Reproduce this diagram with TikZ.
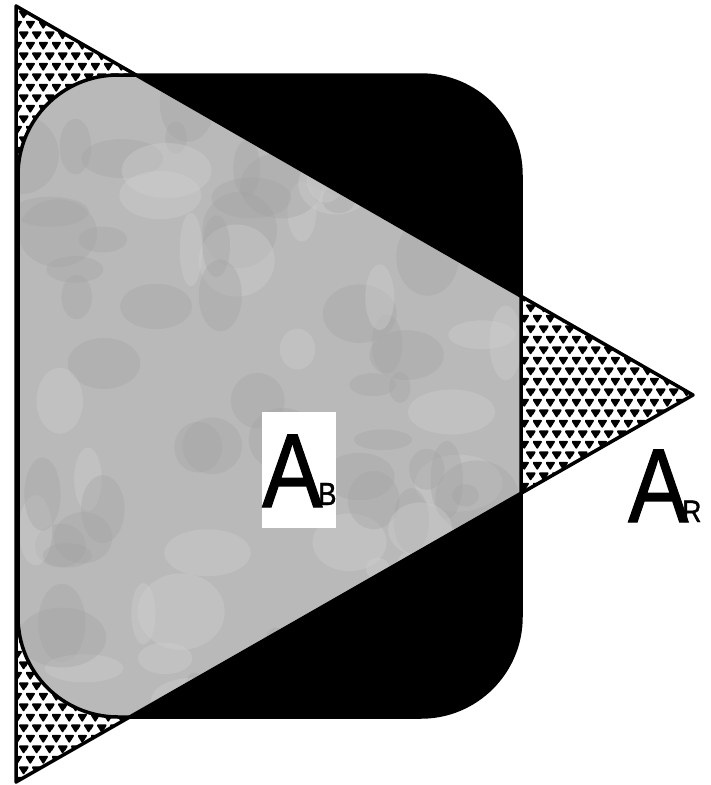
\documentclass[tikz,border=0pt]{standalone}
\usepackage{fontspec}
\setmainfont{Liberation Sans}
\newfontfamily\lblfont[FakeBold=1.2]{Liberation Sans}
\usetikzlibrary{patterns}
\pgfdeclarepatternformonly{tris}{\pgfpointorigin}{\pgfpoint{13.3pt}{21.4pt}}{\pgfpoint{13.3pt}{21.4pt}}{%
  \pgfsetlinewidth{1.8pt}\pgfsetroundjoin
  \foreach \cx/\cy in {4.5/5.35, 11.15/16.05, -2.15/16.05, 4.5/26.75, 11.15/-5.35, -2.15/-5.35}{%
    \pgfpathmoveto{\pgfpoint{\cx pt - 4.0pt}{\cy pt + 3.1pt}}%
    \pgfpathlineto{\pgfpoint{\cx pt + 4.0pt}{\cy pt + 3.1pt}}%
    \pgfpathlineto{\pgfpoint{\cx pt}{\cy pt - 3.1pt}}%
    \pgfpathclose
    \pgfusepath{fill,stroke}%
  }%
}
\begin{document}
\begin{tikzpicture}[x=1pt,y=-1pt,
  outline/.style={line width=3.5pt, line join=round},
  bigA/.style={inner sep=0pt, anchor=base west, font=\lblfont\fontsize{105}{105}\selectfont},
  subs/.style={inner sep=0pt, anchor=base west, font=\lblfont\fontsize{32}{32}\selectfont}]
\useasboundingbox (0,0) rectangle (711,785);
% triangle with pattern
\coordinate (t1) at (16,6);
\coordinate (t2) at (16,782);
\coordinate (t3) at (693,395);
\fill[white] (t1) -- (t3) -- (t2) -- cycle;
\fill[pattern=tris, pattern color=black] (t1) -- (t3) -- (t2) -- cycle;
% rounded rectangle black
\fill[black, rounded corners=100pt] (18,75) rectangle (521,717);
% intersection grey
\begin{scope}
  \clip (t1) -- (t3) -- (t2) -- cycle;
  \clip[rounded corners=100pt] (18,75) rectangle (521,717);
  \fill[gray!55] (0,0) rectangle (711,785);
  \pgfmathsetseed{7}
  \foreach \i in {1,...,90}{
    \pgfmathsetmacro\xx{20+500*rnd}
    \pgfmathsetmacro\yy{70+650*rnd}
    \pgfmathsetmacro\rr{10+35*rnd}
    \pgfmathsetmacro\ss{10+30*rnd}
    \pgfmathsetmacro\cc{ifthenelse(rnd>0.5,35,72)}
    \fill[gray!\cc, opacity=0.35] (\xx,\yy) ellipse ({\rr pt} and {\ss pt});
  }
\end{scope}
% outlines
\draw[outline, rounded corners=100pt] (18,75) rectangle (521,717);
\draw[outline] (t1) -- (t3) -- (t2) -- cycle;
% labels
\node[fill=white, minimum width=74pt, minimum height=116pt, inner sep=0pt] (abbox) at (299,470) {};
\node[bigA] (ab) at (262,507) {\scalebox{0.86}[1]{A}};
\node[subs] (abs) at (318,505) {\scalebox{0.86}[1]{B}};
\node[bigA] (ar) at (628,522) {\scalebox{0.86}[1]{A}};
\node[subs, font=\lblfont\fontsize{31}{31}\selectfont] (ars) at (682,522) {\scalebox{0.86}[1]{R}};
\end{tikzpicture}
\end{document}
